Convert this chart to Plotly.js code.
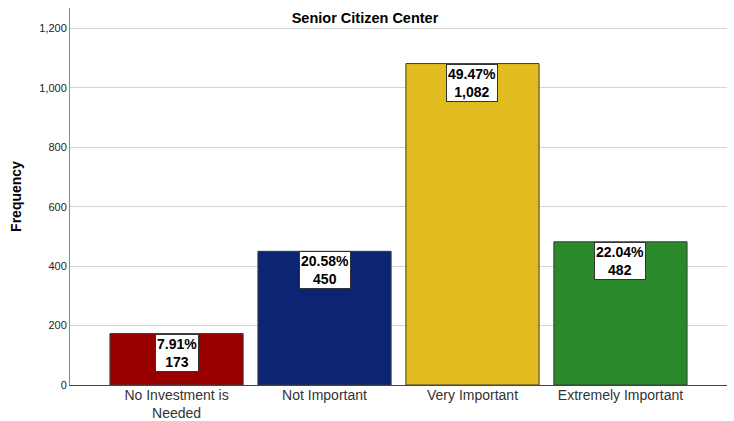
<!DOCTYPE html>
<html><head><meta charset="utf-8">
<script src="https://cdn.plot.ly/plotly-3.0.1.min.js"></script>
<style>html,body{margin:0;padding:0;background:#fff}#c{width:734px;height:421px}</style>
</head><body><div id="c"></div>
<script>
const categories = ["No Investment is<br>Needed", "Not Important", "Very Important", "Extremely Important"];
const counts = [173, 450, 1082, 482];
const percents = ["7.91%", "20.58%", "49.47%", "22.04%"];
const countLabels = ["173", "450", "1,082", "482"];
const colors = ["#990000", "#0B2573", "#E1BC1F", "#2A892A"];
const yTicks = [0, 200, 400, 600, 800, 1000, 1200];
const yTickText = ["0", "200", "400", "600", "800", "1,000", "1,200"];

const trace = {
  type: "bar", x: [0,1,2,3], y: counts, width: 0.9,
  marker: {color: colors, line: {color: "#3a3a3a", width: 1}},
  hoverinfo: "none"
};
const annotations = counts.map((v, i) => ({
  x: i, y: v, xref: "x", yref: "y", yanchor: "top", xanchor: "center",
  text: "<b>" + percents[i] + "<br>" + countLabels[i] + "</b>",
  showarrow: false, bgcolor: "#ffffff", bordercolor: "#333333", borderwidth: 1,
  borderpad: 1, font: {family: "Arial", size: 14, color: "#000"}
}));
const layout = {
  width: 734, height: 421,
  margin: {l: 70, r: 7, t: 8, b: 36},
  paper_bgcolor: "#fff", plot_bgcolor: "#fff",
  title: {text: "<b>Senior Citizen Center</b>", font: {family: "Arial", size: 14.5, color: "#000"},
          x: 365/734, xanchor: "center", xref: "container", y: 1 - 18/421, yref: "container", yanchor: "middle"},
  bargap: 0.1,
  xaxis: {
    range: [-0.72, 3.72], tickvals: [0,1,2,3], ticktext: categories,
    showgrid: false, zeroline: false, showline: true, linecolor: "#444", linewidth: 1,
    ticks: "", ticklabelstandoff: -3,
    tickfont: {family: "Arial", size: 14, color: "#333"}, fixedrange: true
  },
  yaxis: {
    range: [0, 1269], tickvals: yTicks, ticktext: yTickText,
    showgrid: true, gridcolor: "#d4d4d4", gridwidth: 1, zeroline: false,
    showline: true, linecolor: "#888", linewidth: 1, ticks: "",
    tickfont: {family: "Arial", size: 11, color: "#222"},
    title: {text: "<b>Frequency</b>", font: {family: "Arial", size: 14, color: "#000"}, standoff: 14},
    fixedrange: true
  },
  annotations: annotations,
  showlegend: false
};
Plotly.newPlot("c", [trace], layout, {displayModeBar: false, staticPlot: true});
</script></body></html>
